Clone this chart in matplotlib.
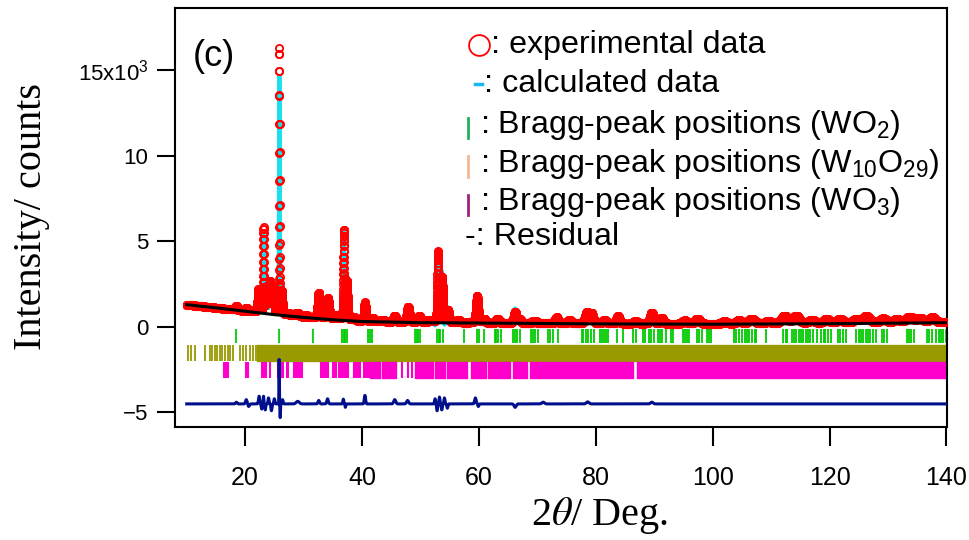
import numpy as np
import matplotlib.pyplot as plt
from matplotlib.lines import Line2D

plt.rcParams['font.family'] = ['Liberation Sans', 'DejaVu Sans']
plt.rcParams['mathtext.fontset'] = 'custom'
plt.rcParams['mathtext.rm'] = 'Liberation Sans'
plt.rcParams['mathtext.it'] = 'Liberation Sans'
plt.rcParams['mathtext.bf'] = 'Liberation Sans:bold'

# background line (2theta, counts)
bg_tt = [10, 15, 20, 25, 30, 35, 40, 50, 60, 80, 100, 120, 140]
bg_counts = [1300, 1120, 920, 720, 560, 420, 320, 250, 230, 180, 160, 190, 250]

# observed reflections: position, height above background, fwhm
peak_tt = [18.5, 20.2, 21.0, 22.3, 23.15, 23.7, 24.3, 24.85, 25.85, 26.25,
           27.3, 28.9, 30.5, 32.6, 34.15, 35.5, 36.9, 37.4, 38.6, 40.5,
           41.8, 43.5, 45.6, 47.9, 49.8, 51.5, 53.0, 53.7, 54.7, 56.5,
           59.7, 60.9, 63.2, 66.2, 67.0, 69.5, 73.3, 75.5, 78.5, 79.3,
           81.5, 83.8, 86.8, 89.6, 91.3, 95.2, 97.4, 102.0, 104.5, 106.7,
           109.5, 112.3, 114.3, 117.0, 119.5, 121.8, 124.5, 126.3, 129.2, 131.5,
           133.7, 135.5, 137.6]
peak_h = [220, 180, 80, 1350, 4900, 1500, 1800, 1300, 15500, 1200,
          150, 200, 100, 1500, 1200, 250, 5200, 2200, 200, 1100,
          200, 100, 350, 900, 350, 150, 4100, 2600, 700, 150,
          1550, 200, 250, 650, 200, 150, 350, 200, 650, 550,
          200, 450, 150, 650, 350, 200, 300, 150, 200, 300,
          150, 450, 450, 200, 250, 250, 200, 400, 250, 200,
          350, 250, 300]
peak_fwhm = [0.4, 0.4, 0.5, 0.35, 0.14, 0.35, 0.35, 0.3, 0.12, 0.3,
             0.6, 0.9, 0.6, 0.4, 0.5, 0.6, 0.2, 0.3, 0.5, 0.35,
             0.5, 0.8, 0.5, 0.5, 0.6, 0.6, 0.25, 0.3, 0.45, 0.6,
             0.45, 0.5, 0.6, 0.5, 0.5, 0.8, 0.6, 0.7, 0.7, 0.6,
             0.8, 0.6, 0.8, 0.7, 0.6, 0.9, 1.0, 1.0, 1.0, 1.2,
             1.0, 1.2, 1.2, 1.2, 1.2, 1.2, 1.2, 1.4, 1.2, 1.2,
             1.4, 1.2, 1.2]

# residual features (obs - calc): position, amplitude, fwhm
res_tt = [18.5, 20.2, 20.6, 22.4, 22.85, 23.15, 23.45, 24.0, 24.5, 25.0,
          25.82, 26.0, 26.4, 29.0, 32.6, 34.1, 36.8, 37.15, 40.5, 45.6,
          47.8, 52.5, 52.85, 53.25, 53.65, 54.1, 54.6, 59.4, 59.9, 66.2,
          71.0, 78.6, 89.6]
res_amp = [100, 250, -150, 450, -300, 450, -350, 350, -400, 300,
           2600, -800, 250, 150, 200, 300, 280, -200, 500, 250,
           200, 300, -400, 400, -350, 350, -250, 350, -150, -200,
           100, 120, 100]
res_fwhm = [0.3, 0.3, 0.3, 0.25, 0.2, 0.1, 0.15, 0.2, 0.2, 0.2,
            0.08, 0.1, 0.2, 0.6, 0.3, 0.3, 0.2, 0.15, 0.25, 0.4,
            0.4, 0.2, 0.2, 0.2, 0.2, 0.2, 0.2, 0.3, 0.2, 0.4,
            0.5, 0.5, 0.5]
res_offset = -4500

# Bragg-peak positions
wo2_ticks = [18.5, 25.8, 31.6, 36.6, 36.9, 37.1, 37.4, 41.0, 41.3, 41.7,
             49.1, 49.4, 49.6, 49.9, 52.8, 53.1, 53.4, 53.8, 57.4, 59.7,
             60.0, 60.9, 62.7, 63.0, 63.3, 63.8, 65.8, 66.1, 66.5, 67.0,
             68.9, 69.2, 69.6, 70.1, 71.9, 72.2, 72.6, 73.5, 77.6, 77.9,
             78.3, 78.7, 79.1, 79.7, 80.7, 81.0, 81.4, 81.7, 82.1, 83.6,
             84.6, 86.3, 86.8, 88.0, 88.5, 89.1, 89.4, 89.9, 90.6, 91.0,
             91.3, 92.1, 92.8, 93.3, 94.9, 95.2, 95.6, 95.9, 97.3, 97.7,
             98.1, 99.0, 99.4, 99.8, 103.6, 104.0, 104.5, 105.0, 105.5, 105.9,
             106.3, 106.8, 107.2, 107.5, 109.2, 112.1, 112.5, 112.8, 113.5, 113.9,
             114.3, 114.7, 115.1, 115.5, 115.9, 116.3, 116.6, 117.1, 117.8, 118.6,
             119.0, 119.3, 119.7, 120.2, 121.4, 121.8, 122.3, 122.8, 124.6, 125.0,
             125.4, 125.8, 126.2, 126.6, 127.0, 127.5, 128.0, 128.9, 129.4, 129.9,
             133.2, 133.6, 134.0, 134.4, 136.6, 137.1, 137.6, 138.3, 138.7, 139.1,
             139.5, 139.9]
w10o29_ticks = [10.3, 10.7, 11.5, 13.2, 14.0, 14.4, 14.8, 15.2, 15.7, 16.1,
                16.5, 17.0, 17.4, 17.9, 19.1, 19.6, 20.2, 20.9, 21.4, 21.8]
w10o29_bands = [(22.0, 72.95), (73.1, 94.6), (94.75, 140.3)]
wo3_ticks = [16.3, 16.5, 16.8, 17.1, 20.2, 20.5, 22.9, 23.2, 23.6, 24.3,
             25.6, 25.9, 26.2, 26.5, 27.2, 27.4, 28.4, 28.7, 29.0, 29.4,
             29.7, 33.0, 33.3, 33.6, 33.9, 34.2, 35.0, 35.3, 35.6, 36.0,
             36.2, 36.6, 36.9, 37.2, 37.6, 38.6, 38.9, 39.2, 39.5, 39.7,
             40.3, 40.6, 40.9, 41.2, 46.8, 47.9, 48.5]
wo3_bands = [(41.4, 43.1), (43.5, 45.9), (49.1, 51.4), (51.6, 52.2), (52.5, 54.2),
             (54.6, 55.0), (55.3, 57.9), (58.7, 61.3), (61.6, 65.3), (65.8, 68.2),
             (68.7, 86.3), (87.0, 140.1)]


def pv(x, pos, h, w, eta=0.5):
    d = (x - pos) / (w / 2)
    return h * (eta / (1 + d ** 2) + (1 - eta) * np.exp(-np.log(2) * d ** 2))


tt = np.arange(10.0, 140.0, 0.01)
obs = np.interp(tt, bg_tt, bg_counts)
for p, h, w in zip(peak_tt, peak_h, peak_fwhm):
    obs = obs + pv(tt, p, h, w)
resid = np.zeros_like(tt)
for p, a, w in zip(res_tt, res_amp, res_fwhm):
    resid = resid + a * np.exp(-np.log(2) * ((tt - p) / (w / 2)) ** 2)
calc = obs - resid

W, H = 969, 540


def fx(x):
    return x / W


def fy(y):
    return 1 - y / H


fig = plt.figure(figsize=(9.69, 5.4), dpi=100)
ax = fig.add_axes([fx(175), fy(427), (947 - 175) / W, (427 - 8) / H])

rows = {'wo2': (-950, -100), 'w10': (-2000, -1050), 'wo3': (-3000, -2050)}
ax.vlines(wo2_ticks, *rows['wo2'], color='#00cc00', lw=1.3, zorder=1)
ax.vlines(w10o29_ticks, *rows['w10'], color='#999900', lw=1.3, zorder=1)
ax.broken_barh([(a, b - a) for a, b in w10o29_bands], (rows['w10'][0], 950),
               color='#999900', zorder=1)
ax.vlines(wo3_ticks, *rows['wo3'], color='#ff00cc', lw=1.5, zorder=1)
ax.broken_barh([(a, b - a) for a, b in wo3_bands], (rows['wo3'][0], 950),
               color='#ff00cc', zorder=1)

ax.plot(tt, calc, color='#18e0f0', lw=3, zorder=2)
ax.plot(tt, obs, ls='none', marker='o', ms=5.2, mfc='none', mec='red', mew=1.3, zorder=3)
ax.plot(bg_tt, bg_counts, color='black', lw=2.2, zorder=4)
ax.plot(tt, resid + res_offset, color='#00108c', lw=2.2, zorder=4)

ax.set_xlim(8.0, 140.1)
ax.set_ylim(-5850, 18650)
ax.set_xticks([20, 40, 60, 80, 100, 120, 140],
              ['20', '40', '60', '80', '100', '120', '140'], fontsize=18)
ax.set_yticks([-5000, 0, 5000, 10000, 15000],
              ['\u22125', '0', '5', '10', '15x10$^3$'], fontsize=16)
ax.tick_params(axis='y', direction='out', length=13, width=1.5, pad=6)
ax.tick_params(axis='x', direction='out', length=14, width=1.5, pad=14)
for s in ax.spines.values():
    s.set_linewidth(1.5)

fig.text(fx(32), fy(217), 'Intensity/ counts', family='Liberation Serif', fontsize=29,
         rotation=90, ha='center', va='center')
fig.text(fx(600), fy(515), '2$\\theta$/ Deg.', family='Liberation Serif', fontsize=29,
         math_fontfamily='stix', ha='center', va='center')
fig.text(fx(193), fy(56), '(c)', fontsize=26, ha='left', va='center')

# legend written as annotation text
fs = 23.2
fig.add_artist(Line2D([fx(479)], [fy(45)], marker='o', ms=15, mfc='none', mec='red',
                      mew=1.3, transform=fig.transFigure))
fig.text(fx(491), fy(53), ': experimental data', fontsize=fs, va='baseline')
fig.add_artist(Line2D([fx(475), fx(482)], [fy(84), fy(84)], color='#18b8f0',
                      lw=2.5, transform=fig.transFigure))
fig.text(fx(484), fy(92), ': calculated data', fontsize=fs, va='baseline')
bar_cols = ['#20b060', '#f4b890', '#a02080']
bar_text = [': Bragg-peak positions (WO$_2$)',
            ': Bragg-peak positions (W$_{10}$O$_{29}$)',
            ': Bragg-peak positions (WO$_3$)']
for i, (c, t) in enumerate(zip(bar_cols, bar_text)):
    base = 133 + 38.5 * i
    fig.add_artist(Line2D([fx(468), fx(468)], [fy(base - 15), fy(base + 5)], color=c,
                          lw=2.0, transform=fig.transFigure))
    fig.text(fx(480), fy(base), t, fontsize=fs, va='baseline')
fig.text(fx(465), fy(245), '-: Residual', fontsize=fs, va='baseline')

fig.savefig('out.png', dpi=100)
